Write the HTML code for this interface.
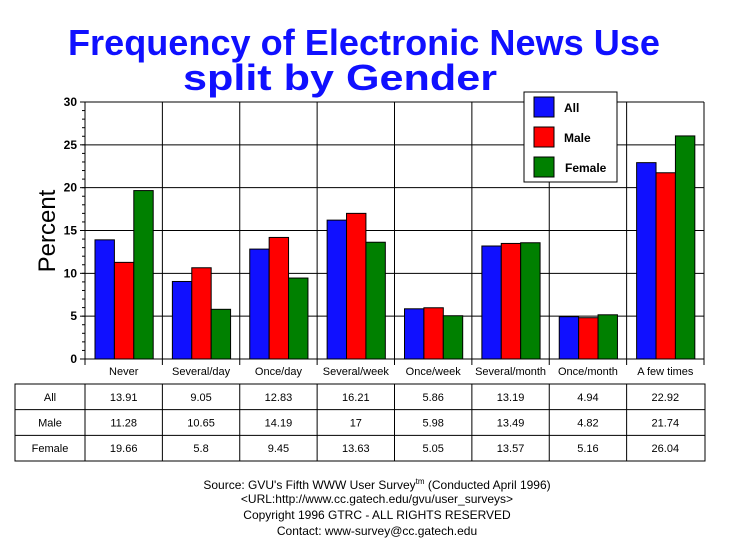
<!DOCTYPE html>
<html><head><meta charset="utf-8"><style>body{margin:0;background:#fff}svg{display:block}</style></head>
<body>
<svg width="729" height="553" xmlns="http://www.w3.org/2000/svg" font-family="Liberation Sans, Arial, sans-serif">
<rect width="729" height="553" fill="#fff"/>
<text x="68" y="55" textLength="592" lengthAdjust="spacingAndGlyphs" font-size="36" font-weight="bold" fill="#1010ff">Frequency of Electronic News Use</text>
<text x="183" y="90" textLength="314" lengthAdjust="spacingAndGlyphs" font-size="36" font-weight="bold" fill="#1010ff">split by Gender</text>
<text transform="translate(55,231) rotate(-90)" text-anchor="middle" font-size="24">Percent</text>
<g id="plot"></g>
<rect x="524" y="92" width="93" height="90" fill="#fff" stroke="#000"/>
<rect x="534" y="97" width="20" height="20" fill="#1010ff" stroke="#000"/>
<rect x="534" y="127" width="20" height="20" fill="#ff0000" stroke="#000"/>
<rect x="534" y="157" width="20" height="20" fill="#008000" stroke="#000"/>
<text x="564" y="112" font-size="12" font-weight="bold">All</text>
<text x="564" y="142" font-size="12" font-weight="bold">Male</text>
<text x="565" y="172" font-size="12" font-weight="bold">Female</text>
<g font-size="12" text-anchor="middle">
<text x="377" y="489">Source: GVU's Fifth WWW User Survey<tspan font-size="8" dy="-5">tm</tspan><tspan dy="5">  (Conducted April 1996)</tspan></text>
<text x="377" y="503">&lt;URL:http://www.cc.gatech.edu/gvu/user_surveys&gt;</text>
<text x="377" y="519">Copyright 1996 GTRC -  ALL RIGHTS RESERVED</text>
<text x="377" y="535">Contact: www-survey@cc.gatech.edu</text>
</g>
</svg>
<script>
const ns="http://www.w3.org/2000/svg",g=document.getElementById('plot');
function el(t,a,txt){const e=document.createElementNS(ns,t);for(const k in a)e.setAttribute(k,a[k]);if(txt!==undefined)e.textContent=txt;g.appendChild(e);return e;}
const L=85,R=704,T=102,B=359,cw=(R-L)/8,s=(B-T)/30;
const cats=["Never","Several/day","Once/day","Several/week","Once/week","Several/month","Once/month","A few times"];
const d=[[13.91,9.05,12.83,16.21,5.86,13.19,4.94,22.92],[11.28,10.65,14.19,17,5.98,13.49,4.82,21.74],[19.66,5.8,9.45,13.63,5.05,13.57,5.16,26.04]];
const col=["#1010ff","#ff0000","#008000"];
for(let v=0;v<=30;v+=5){const y=B-v*s;el('line',{x1:L,x2:R,y1:y,y2:y,stroke:'#000'});el('line',{x1:L-5,x2:L,y1:y,y2:y,stroke:'#000'});el('text',{x:L-8,y:y+4,'text-anchor':'end','font-size':12,'font-weight':'bold'},v);}
for(let v=0;v<=30;v++){const y=B-v*s;el('line',{x1:L-3,x2:L,y1:y,y2:y,stroke:'#000'});}
for(let i=0;i<=8;i++){const x=L+i*cw;el('line',{x1:x,x2:x,y1:T,y2:B+6,stroke:'#000'});}
el('line',{x1:L,x2:R,y1:T,y2:T,stroke:'#000'});
for(let i=0;i<8;i++){const c=L+i*cw;for(let j=0;j<3;j++){const h=d[j][i]*s;el('rect',{x:c+10+j*19.4,y:B-h,width:19.4,height:h,fill:col[j],stroke:'#000'});}
el('text',{x:c+cw/2,y:375,'text-anchor':'middle','font-size':11},cats[i]);}
const tl=15,tr=705,tt=384,tb=461,rh=(tb-tt)/3;
el('rect',{x:tl,y:tt,width:tr-tl,height:tb-tt,fill:'none',stroke:'#000'});
for(let r=1;r<3;r++)el('line',{x1:tl,x2:tr,y1:tt+r*rh,y2:tt+r*rh,stroke:'#000'});
for(let i=0;i<8;i++){const x=L+i*cw;el('line',{x1:x,x2:x,y1:tt,y2:tb,stroke:'#000'});}
const rn=["All","Male","Female"];
for(let r=0;r<3;r++){const y=tt+r*rh+rh/2+4;el('text',{x:(tl+L)/2,y:y,'text-anchor':'middle','font-size':11},rn[r]);
for(let i=0;i<8;i++)el('text',{x:L+i*cw+cw/2,y:y,'text-anchor':'middle','font-size':11},d[r][i]);}
</script>
</body></html>
